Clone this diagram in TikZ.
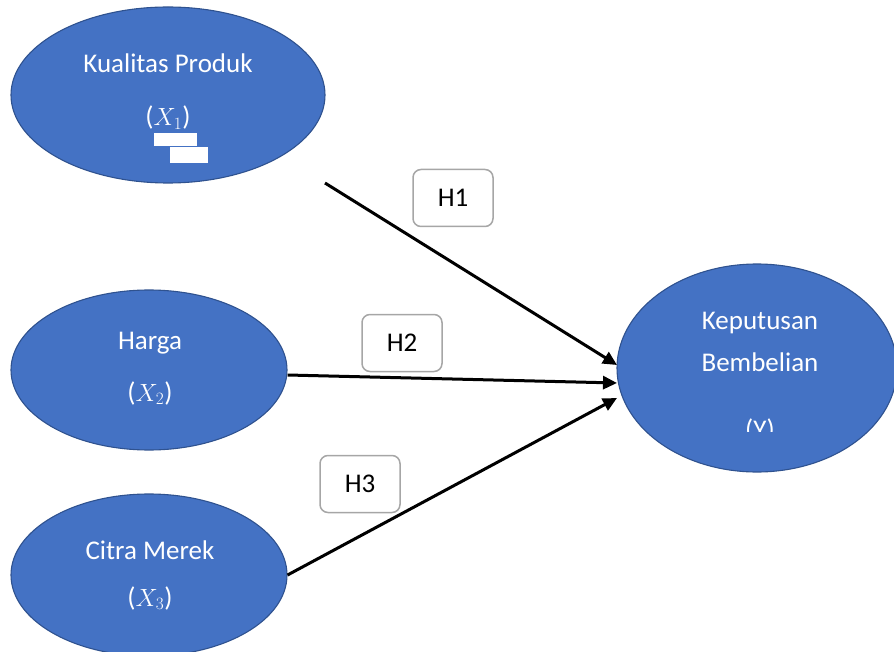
\documentclass[tikz,border=0pt]{standalone}
\usepackage{fontspec}
\setmainfont{Carlito}
\usetikzlibrary{arrows.meta,shapes.geometric,positioning}
\definecolor{varblue}{HTML}{4472C4}
\definecolor{varedge}{HTML}{2F528F}
\definecolor{boxgray}{HTML}{A6A6A6}
\tikzset{
  varnode/.style={ellipse, draw=varedge, fill=varblue, line width=1.1pt, inner sep=0pt},
  vartext/.style={text=white, font=\fontsize{27}{32}\selectfont, inner sep=0pt},
  hypbox/.style={draw=boxgray, fill=white, rounded corners=8pt, line width=1.5pt,
    minimum width=80pt, minimum height=57pt, font=\fontsize{27}{32}\selectfont},
  path/.style={-{Triangle[length=14pt, width=13pt]}, line width=3pt, black}
}
\begin{document}
\begin{tikzpicture}[x=1pt,y=-1pt]
  \useasboundingbox (0,0) rectangle (894,652);

  % Variables
  \node[varnode, minimum width=314pt, minimum height=176pt] (kp) at (168,95) {};
  \node[varnode, minimum width=276pt, minimum height=160pt] (hg) at (149,370) {};
  \node[varnode, minimum width=276pt, minimum height=162pt] (cm) at (149,575) {};
  \node[varnode, minimum width=280pt, minimum height=208pt] (ky) at (757,368) {};

  % Texts in the variables
  \node[vartext] (kpname) at (168,63) {Kualitas Produk};
  \node[vartext] (kpsym) at (168,118) {($X_1$)};
  \fill[white] (154,133) rectangle (197,146);
  \fill[white] (170,147) rectangle (208,163);
  \node[vartext] (hgname) at (150,343) {Harga};
  \node[vartext] (hgsym) at (150,393) {($X_2$)};
  \node[vartext] (cmname) at (150,550) {Citra Merek};
  \node[vartext] (cmsym) at (150,598) {($X_3$)};
  \node[vartext] (kyname) at (760,323) {Keputusan};
  \node[vartext] (kyname2) at (760,362) {Bembelian};
  \begin{scope}
    \clip (700,400) rectangle (820,431);
    \node[vartext] (kysym) at (760,430) {(Y)};
  \end{scope}

  % Paths
  \coordinate (h1start) at (325,183);
  \coordinate (h1end) at (617,365);
  \coordinate (h2end) at (617,383);
  \coordinate (h3end) at (617,398);
  \draw[path] (h1start) -- (h1end);
  \draw[path] (hg.east) ++(0,5) -- (h2end);
  \draw[path] (cm.east) -- (h3end);

  % Hypotheses
  \node[hypbox] (h1) at (453,198) {H1};
  \node[hypbox] (h2) at (402,343) {H2};
  \node[hypbox] (h3) at (360,484) {H3};
\end{tikzpicture}
\end{document}
